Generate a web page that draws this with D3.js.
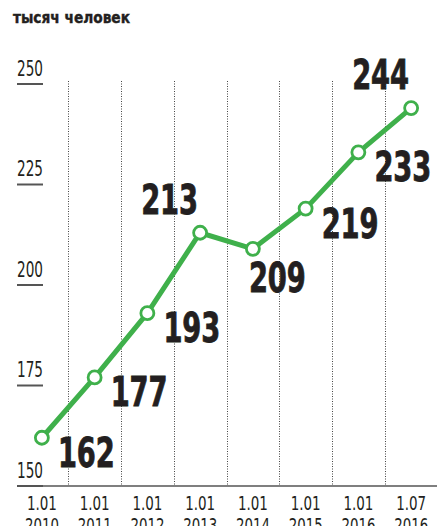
<!DOCTYPE html>
<html>
<head>
<meta charset="utf-8">
<script src="https://cdn.jsdelivr.net/npm/d3@7"></script>
<style>
  body { margin: 0; background: #fff; }
  svg { display: block; }
  .grid line { stroke: #444; stroke-width: 1; stroke-dasharray: 1 1.5; }
  .ytick text { font-family: "DejaVu Sans Condensed", "DejaVu Sans", sans-serif; font-size: 21px; fill: #231f20; }
  .xlab text { font-family: "DejaVu Sans Condensed", "DejaVu Sans", sans-serif; font-size: 20px; fill: #231f20; }
  .val { font-family: "DejaVu Sans Condensed", "DejaVu Sans", sans-serif; font-weight: bold; font-size: 40px; fill: #231f20; stroke: #231f20; stroke-width: 0.8px; }
</style>
</head>
<body>
<svg id="chart" width="439" height="526"></svg>
<script>
const width = 439;
const height = 526;

// dates (two lines each) and population, thousand people
const dateTop = ["1.01", "1.01", "1.01", "1.01", "1.01", "1.01", "1.01", "1.07"];
const dateYear = ["2010", "2011", "2012", "2013", "2014", "2015", "2016", "2016"];
const values = [162, 177, 193, 213, 209, 219, 233, 244];
// where each value label sits relative to its point
const labelSide = ["right", "right", "right", "above", "below", "right", "right", "above"];
const yTicks = [150, 175, 200, 225, 250];

const green = "#3fb04b";
const ink = "#231f20";

let svg = d3.select("svg#chart");

/* SCALES */

let xScale = d3.scaleBand()
  .domain(dateYear.map((d, i) => i))
  .range([15.5, 437.5]);

let yScale = d3.scaleLinear()
  .domain([150, 250])
  .range([486, 84]);

const xMid = i => xScale(i) + xScale.bandwidth() / 2;

/* TITLE */

svg.append("text")
  .attr("x", 13)
  .attr("y", 23)
  .attr("textLength", 117)
  .attr("lengthAdjust", "spacingAndGlyphs")
  .style("font-family", "'DejaVu Sans Condensed', 'DejaVu Sans', sans-serif")
  .style("font-weight", "bold")
  .style("font-size", "16px")
  .style("fill", ink)
  .style("stroke", ink)
  .style("stroke-width", 0.4)
  .text("тысяч человек");

/* GRID: dotted lines between the dates */

const grid = svg.append("g").attr("class", "grid");
grid.selectAll("line")
  .data(d3.range(1, dateYear.length))
  .enter()
  .append("line")
    .attr("x1", i => Math.round(xScale(i)) + 0.5)
    .attr("x2", i => Math.round(xScale(i)) + 0.5)
    .attr("y1", 81)
    .attr("y2", yScale(150));

/* Y TICKS: label with a short rule under it */

const yGroup = svg.append("g").attr("class", "ytick");
const tick = yGroup.selectAll("g")
  .data(yTicks)
  .enter()
  .append("g")
    .attr("transform", d => translate(0, yScale(d)));

tick.append("line")
  .attr("x1", 17)
  .attr("x2", 43)
  .attr("y1", 0)
  .attr("y2", 0)
  .style("stroke", "#555")
  .style("stroke-width", 2);

tick.append("text")
  .attr("x", 17)
  .attr("y", -8.5)
  .attr("textLength", 26)
  .attr("lengthAdjust", "spacingAndGlyphs")
  .text(d => d);

/* X AXIS */

svg.append("line")
  .attr("x1", 17)
  .attr("x2", 437)
  .attr("y1", yScale(150))
  .attr("y2", yScale(150))
  .style("stroke", "#555")
  .style("stroke-width", 1.5);

const xGroup = svg.append("g").attr("class", "xlab");
const xl = xGroup.selectAll("g")
  .data(dateYear.map((d, i) => i))
  .enter()
  .append("g")
    .attr("transform", i => translate(xMid(i), 0));

xl.append("text")
  .attr("x", 0)
  .attr("y", 510)
  .attr("text-anchor", "middle")
  .attr("textLength", 30)
  .attr("lengthAdjust", "spacingAndGlyphs")
  .text(i => dateTop[i]);

// second line runs off the bottom edge, as in the original
xl.append("text")
  .attr("x", 0)
  .attr("y", 532)
  .attr("text-anchor", "middle")
  .attr("textLength", 34)
  .attr("lengthAdjust", "spacingAndGlyphs")
  .text(i => dateYear[i]);

/* LINE */

const line = d3.line()
  .x((d, i) => xMid(i))
  .y(d => yScale(d));

svg.append("path")
  .datum(values)
  .attr("d", line)
  .style("fill", "none")
  .style("stroke", green)
  .style("stroke-width", 5)
  .style("stroke-linejoin", "round");

svg.append("g").selectAll("circle")
  .data(values)
  .enter()
  .append("circle")
    .attr("cx", (d, i) => xMid(i))
    .attr("cy", d => yScale(d))
    .attr("r", 6.5)
    .style("fill", "#fff")
    .style("stroke", green)
    .style("stroke-width", 2.8);

/* VALUE LABELS */

svg.append("g").selectAll("text")
  .data(values)
  .enter()
  .append("text")
    .attr("class", "val")
    .attr("x", (d, i) => {
      const s = labelSide[i];
      if (s === "right") return xMid(i) + 16;
      if (s === "below") return xMid(i) - 4;
      return xMid(i) - 59;
    })
    .attr("y", (d, i) => {
      const s = labelSide[i];
      if (s === "right") return yScale(d) + 29;
      if (s === "below") return yScale(d) + 43;
      return yScale(d) - 19;
    })
    .attr("textLength", 57)
    .attr("lengthAdjust", "spacingAndGlyphs")
    .text(d => d);

/*
 * returns a translate string for the transform attribute
 */
function translate(x, y) {
  return 'translate(' + String(x) + ',' + String(y) + ')';
}
</script>
</body>
</html>
